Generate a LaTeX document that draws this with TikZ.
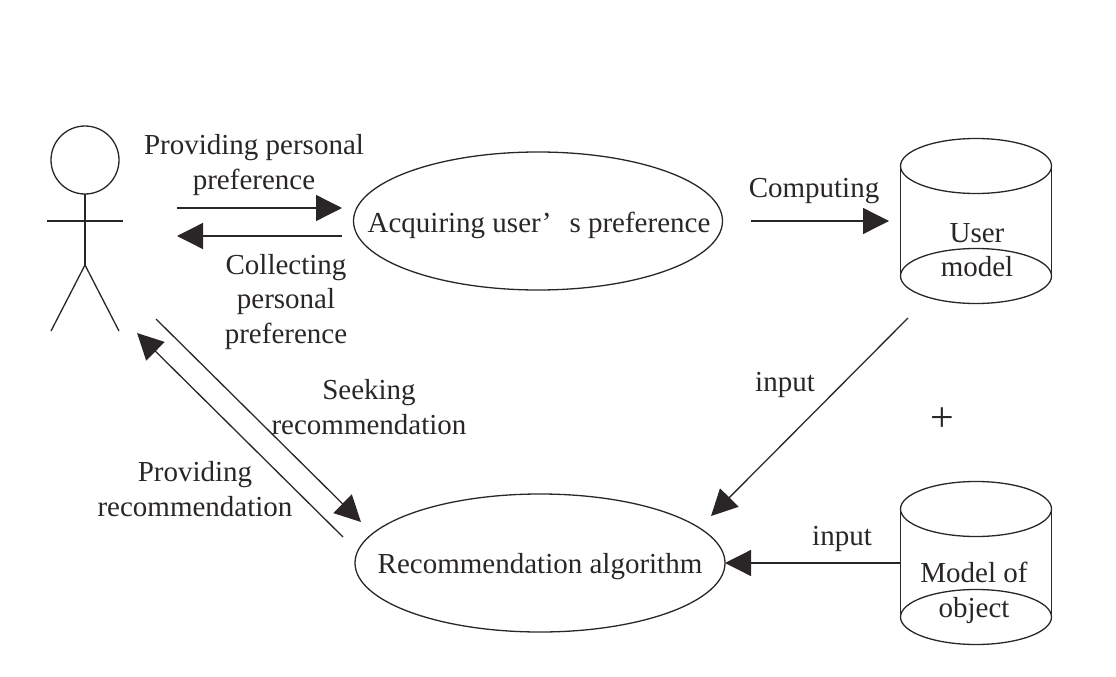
\documentclass[tikz,border=0pt]{standalone}
\usepackage{fontspec}
\setmainfont{Liberation Serif}
\usetikzlibrary{arrows.meta,shapes.geometric}
\definecolor{ink}{HTML}{2A2627}
\tikzset{
	label text/.style={align=center,inner sep=0pt,text=ink,font=\fontsize{29}{34.5}\selectfont},
	oval/.style={ellipse,draw=ink,line width=1.3pt,inner sep=0pt,outer sep=0pt},
	flow/.style={draw=ink,line width=1.3pt,-{Triangle[length=26pt,width=26pt]}},
	limb/.style={draw=ink,line width=1.3pt}
}
\begin{document}
\begin{tikzpicture}[x=1pt,y=-1pt]
	\useasboundingbox (0,0) rectangle (1116,677);
	% person
	\node[circle,draw=ink,line width=1.3pt,minimum size=68pt,inner sep=0pt,outer sep=0pt] (head) at (85,160) {};
	\coordinate (hip) at (85,265);
	\coordinate (handL) at (47,221);
	\coordinate (handR) at (123,221);
	\coordinate (footL) at (51,331);
	\coordinate (footR) at (119,331);
	\draw[limb] (head.south) -- (hip);
	\draw[limb] (handL) -- (handR);
	\draw[limb] (footL) -- (hip) -- (footR);
	% ellipses
	\node[oval,minimum width=369pt,minimum height=138pt] (acquire) at (538,221) {};
	\node[label text] (acquireText) at (539,225) {Acquiring user’\hspace{.62em}s preference};
	\node[oval,minimum width=370pt,minimum height=138pt] (recommend) at (540,563) {};
	\node[label text] (recommendText) at (540,567) {Recommendation algorithm};
	% user model
	\node[oval,minimum width=151pt,minimum height=55pt] (userTop) at (976,166) {};
	\node[oval,minimum width=151pt,minimum height=55pt] (userBase) at (976,276) {};
	\draw[limb] (userTop.west) -- (userBase.west);
	\draw[limb] (userTop.east) -- (userBase.east);
	\node[label text] (userText) at (977,250) {User\\model};
	% model of object
	\node[oval,minimum width=151pt,minimum height=55pt] (objectTop) at (976,509) {};
	\node[oval,minimum width=151pt,minimum height=55pt] (objectBase) at (976,617) {};
	\draw[limb] (objectTop.west) -- (objectBase.west);
	\draw[limb] (objectTop.east) -- (objectBase.east);
	\node[label text] (objectText) at (974,593) {Model of\\object};
	% arrow ends
	\coordinate (prefA) at (177,208);
	\coordinate (prefB) at (342,208);
	\coordinate (collA) at (342,236);
	\coordinate (collB) at (177,236);
	\coordinate (compA) at (751,221);
	\coordinate (compB) at (889,221);
	\coordinate (inputA) at (908,318);
	\coordinate (inputB) at (711,516);
	\coordinate (objectOut) at (901,563);
	\coordinate (seekA) at (156,319);
	\coordinate (seekB) at (361,522);
	\coordinate (giveA) at (343,537);
	\coordinate (giveB) at (137,333);
	\draw[flow] (prefA) -- (prefB);
	\draw[flow] (collA) -- (collB);
	\draw[flow] (compA) -- (compB);
	\draw[flow] (inputA) -- (inputB);
	\draw[flow] (objectOut) -- (recommend.east);
	\draw[flow] (seekA) -- (seekB);
	\draw[flow] (giveA) -- (giveB);
	% labels
	\node[label text] (prefText) at (254,165) {Providing personal\\preference};
	\node[label text] (collText) at (286,302) {Collecting\\personal\\preference};
	\node[label text] (compText) at (814,191) {Computing};
	\node[label text] (seekText) at (369,407) {Seeking\\recommendation};
	\node[label text] (giveText) at (195,489) {Providing\\recommendation};
	\node[label text] (inputUser) at (785,385) {input};
	\node[label text] (inputObject) at (842,539) {input};
	\node[label text,font=\fontsize{42}{42}\selectfont] (plus) at (942,420) {+};
\end{tikzpicture}
\end{document}
